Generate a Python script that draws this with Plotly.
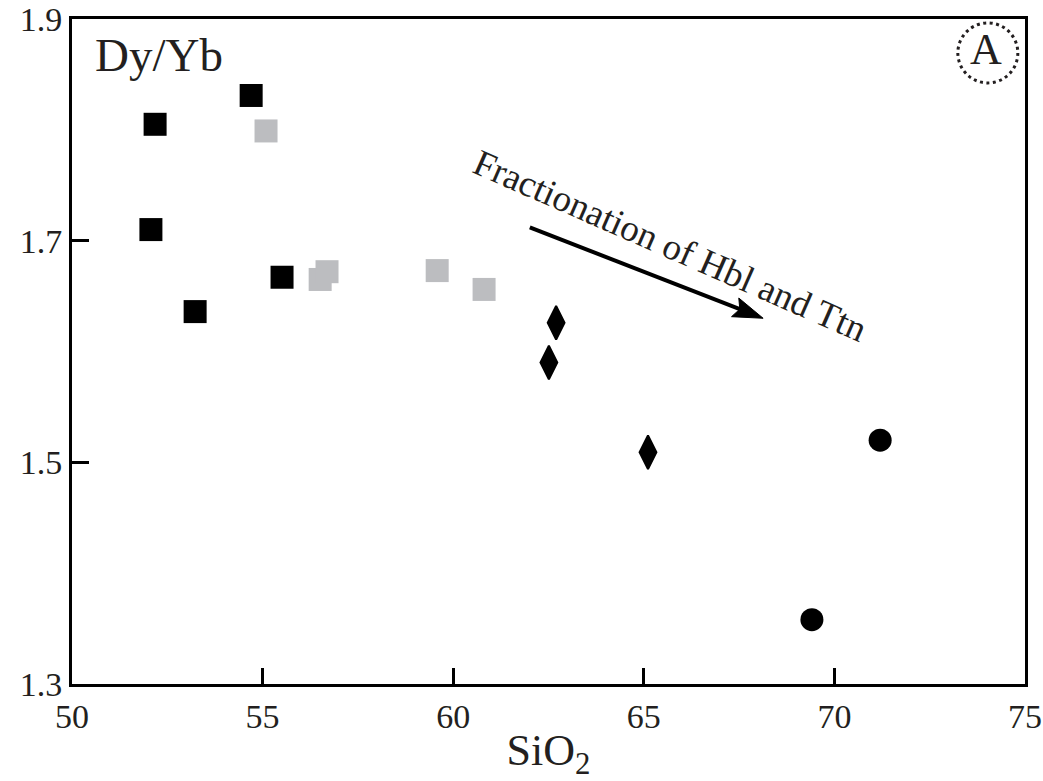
import plotly.graph_objects as go

# Dy/Yb versus SiO2 by sample group
grp1_sio2 = [52.18, 54.70, 52.07, 55.51, 53.23]
grp1_dyyb = [1.805, 1.831, 1.710, 1.667, 1.636]

grp2_sio2 = [55.09, 56.51, 56.69, 59.58, 60.81]
grp2_dyyb = [1.799, 1.665, 1.672, 1.673, 1.656]

grp3_sio2 = [62.70, 62.51, 65.11]
grp3_dyyb = [1.626, 1.590, 1.509]

grp4_sio2 = [71.20, 69.41]
grp4_dyyb = [1.520, 1.358]

x_ticks = [50, 55, 60, 65, 70, 75]
y_ticks = [1.3, 1.5, 1.7, 1.9]

# trend arrow (tail -> tip) in data units
arrow_tail = (62.01, 1.712)
arrow_tip = (68.13, 1.630)

SERIF = "Liberation Serif, Times New Roman, serif"
INK = "#231f20"

# figure / plot-area geometry
W, H = 1043, 781
M_L, M_R, M_T, M_B = 72, 18, 19, 97
X_RANGE = (50, 75)
Y_RANGE = (1.3, 1.9)
PW, PH = W - M_L - M_R, H - M_T - M_B
PX_PER_X = PW / (X_RANGE[1] - X_RANGE[0])
PX_PER_Y = PH / (Y_RANGE[1] - Y_RANGE[0])


def arrow_shapes(tail, tip, head_len=30, head_half=10, notch=5):
    """Shaft + filled head, with head size given in screen pixels."""
    dx = (tip[0] - tail[0]) * PX_PER_X
    dy = -(tip[1] - tail[1]) * PX_PER_Y
    length = (dx ** 2 + dy ** 2) ** 0.5
    ux, uy = dx / length, dy / length
    nx, ny = -uy, ux

    def off(px, py):
        return (tip[0] + px / PX_PER_X, tip[1] - py / PX_PER_Y)

    base = off(-head_len * ux, -head_len * uy)
    back = off(-(head_len - notch) * ux, -(head_len - notch) * uy)
    c1 = off(-head_len * ux + head_half * nx, -head_len * uy + head_half * ny)
    c2 = off(-head_len * ux - head_half * nx, -head_len * uy - head_half * ny)
    shaft = dict(type="line", xref="x", yref="y",
                 x0=tail[0], y0=tail[1], x1=back[0], y1=back[1],
                 line=dict(color="#000", width=4))
    head = dict(type="path", xref="x", yref="y",
                path=(f"M{tip[0]},{tip[1]} L{c1[0]},{c1[1]} "
                      f"L{back[0]},{back[1]} L{c2[0]},{c2[1]} Z"),
                fillcolor="#000", line=dict(color="#000", width=1))
    return [shaft, head]


fig = go.Figure()

fig.add_trace(go.Scatter(
    x=grp2_sio2, y=grp2_dyyb, mode="markers",
    marker=dict(symbol="square", size=23, color="#bcbdc0",
                line=dict(width=0)),
    showlegend=False, hoverinfo="skip"))

fig.add_trace(go.Scatter(
    x=grp1_sio2, y=grp1_dyyb, mode="markers",
    marker=dict(symbol="square", size=23, color="#000000",
                line=dict(width=0)),
    showlegend=False, hoverinfo="skip"))

fig.add_trace(go.Scatter(
    x=grp3_sio2, y=grp3_dyyb, mode="markers",
    marker=dict(symbol="diamond-tall", size=24, color="#000000",
                line=dict(width=2, color="#000000")),
    showlegend=False, hoverinfo="skip"))

fig.add_trace(go.Scatter(
    x=grp4_sio2, y=grp4_dyyb, mode="markers",
    marker=dict(symbol="circle", size=23, color="#000000",
                line=dict(width=0)),
    showlegend=False, hoverinfo="skip"))

ring_x, ring_y = 0.961, 0.949

annotations = [
    # y-axis quantity label inside the frame
    dict(text="Dy/Yb", xref="paper", yref="paper", x=0.0216, y=0.946,
         xanchor="left", yanchor="middle", showarrow=False,
         font=dict(family=SERIF, size=47, color=INK)),
    # panel letter
    dict(text="A", xref="paper", yref="paper", x=ring_x - 0.002, y=ring_y + 0.005,
         xanchor="center", yanchor="middle", showarrow=False,
         font=dict(family=SERIF, size=44, color=INK)),
    # trend label
    dict(text="Fractionation of Hbl and Ttn", x=65.69, y=1.696,
         xref="x", yref="y", showarrow=False, textangle=23.7,
         xanchor="center", yanchor="middle",
         font=dict(family=SERIF, size=37, color=INK)),
]

shapes = arrow_shapes(arrow_tail, arrow_tip) + [
    # dotted ring around the panel letter
    dict(type="circle", xref="paper", yref="paper",
         xsizemode="pixel", ysizemode="pixel",
         xanchor=ring_x, yanchor=ring_y,
         x0=-30, x1=30, y0=-30, y1=30,
         line=dict(color=INK, width=3, dash="3px,3.5px")),
]

fig.update_layout(
    width=W, height=H,
    margin=dict(l=M_L, r=M_R, t=M_T, b=M_B),
    paper_bgcolor="white", plot_bgcolor="white",
    annotations=annotations, shapes=shapes,
    xaxis=dict(
        range=list(X_RANGE), tickvals=x_ticks, ticktext=[str(v) for v in x_ticks],
        ticks="inside", ticklen=16, tickwidth=2.5, tickcolor="#000",
        showline=True, linewidth=3, linecolor="#000", mirror=True,
        showgrid=False, zeroline=False, automargin=False,
        tickfont=dict(family=SERIF, size=34, color=INK),
        title=dict(text="SiO<sub>2</sub>", standoff=4,
                   font=dict(family=SERIF, size=44, color=INK)),
    ),
    yaxis=dict(
        range=list(Y_RANGE), tickvals=y_ticks, ticktext=[f"{v:.1f}" for v in y_ticks],
        ticks="inside", ticklen=17, tickwidth=2.5, tickcolor="#000",
        showline=True, linewidth=3, linecolor="#000", mirror=True,
        showgrid=False, zeroline=False, automargin=False,
        tickfont=dict(family=SERIF, size=34, color=INK),
    ),
)

fig.write_html("out.html")
